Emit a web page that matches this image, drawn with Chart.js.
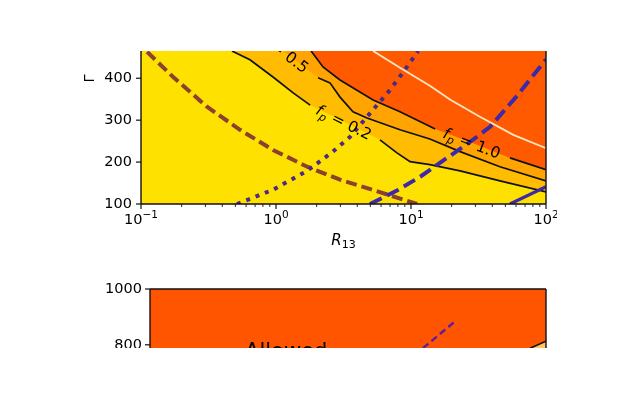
<!DOCTYPE html>
<html>
<head>
<meta charset="utf-8">
<script src="https://cdn.jsdelivr.net/npm/chart.js@4.4.1/dist/chart.umd.min.js"></script>
<style>
  html, body { margin: 0; padding: 0; background: #fff; }
  #page { position: relative; width: 557px; height: 400px; overflow: hidden; }
  #topWrap { position: absolute; left: 0; top: 0; }
  #bottomWrap { position: absolute; left: 0; top: 270px; width: 640px; height: 78px; overflow: hidden; }
</style>
</head>
<body>
<div id="page">
  <div id="topWrap"><canvas id="top" width="640" height="270"></canvas></div>
  <div id="bottomWrap"><canvas id="bottom" width="640" height="318"></canvas></div>
</div>
<script>
// values, points are [R13, Gamma]
const xDecades = [0.1, 1, 10, 100];
const xTickExponents = ['−1', '0', '1', '2']; // labels are 10^exp
const yTicksTop = [100, 200, 300, 400];
const yTicksBottom = [0, 200, 400, 600, 800, 1000];

// contour boundaries f_p = 0.2 / 0.5 / 1.0
const fp02 = [[0.472, 465], [0.641, 444], [0.95, 403], [1.34, 365], [1.79, 336], [3.19, 296],
  [5.89, 253], [7.87, 222], [9.84, 201], [13.8, 194], [23.1, 179], [45.6, 155], [100, 129]];
const fp05 = [[1.13, 465], [2.05, 401], [2.51, 389], [2.98, 355], [3.72, 320], [4.72, 305],
  [8.29, 277], [13.8, 255], [23.1, 225], [45.6, 189], [100, 155]];
const fp10 = [[1.82, 465], [2.23, 427], [2.98, 396], [5.24, 348], [8.29, 320], [15.1, 279],
  [28.3, 246], [54.1, 210], [100, 182]];
const contourLabels = ['0.2', '0.5', '1.0'];
const labelIndex = [5, 0, 6]; // point of each contour where its label sits

const whiteCurve = [[5.24, 465], [8.29, 425], [13.8, 382], [19.7, 348], [32.4, 308], [57.3, 265], [100, 233]];
const brownDashed = [[0.111, 463], [0.173, 403], [0.308, 332], [0.541, 277], [0.95, 229],
  [1.7, 189], [2.98, 158], [5.41, 132], [11.1, 100]];
const dottedCurve = [[0.514, 100], [0.95, 134], [1.7, 179], [2.64, 225], [3.53, 260],
  [5.24, 325], [6.99, 372], [9.33, 427], [11.3, 465]];
const blueDashed = [[4.97, 100], [7.87, 132], [11.7, 165], [18.5, 210], [27.4, 248],
  [38.5, 284], [61.0, 358], [100, 445]];
const blueSolid = [[54.1, 100], [100, 141]];

// lower panel
const lowerDashed = [[11.7, 788], [20.1, 881]];
const lowerEdge = [[75.7, 788], [100, 813]];
const allowedAt = [0.525, 752];

const xTickValues = [];
xDecades.forEach((d, i) => {
  xTickValues.push(d);
  if (i < xDecades.length - 1) for (let m = 2; m <= 9; m++) xTickValues.push(d * m);
});

const FONT = '"DejaVu Sans", sans-serif';
Chart.defaults.font.family = FONT;
Chart.defaults.font.size = 14.5;
Chart.defaults.color = '#000';

const pts = arr => arr.map(([x, y]) => ({ x, y }));
const gapped = (arr, gap) => arr.map(([x, y], k) => ({ x, y: k === gap ? null : y }));

function fillSet(arr, color, order) {
  return { data: pts(arr), borderWidth: 0, borderColor: 'transparent', backgroundColor: color, fill: 'end', order };
}
function lineSet(data, color, width, dash, order) {
  return { data, borderColor: color, borderWidth: width, borderDash: dash || [], fill: false, order, spanGaps: false };
}

function drawFpLabel(ctx, x, y, angle, value, size) {
  ctx.save();
  ctx.translate(x, y);
  ctx.rotate(angle);
  ctx.fillStyle = '#000';
  ctx.textBaseline = 'alphabetic';
  ctx.textAlign = 'left';
  const big = 'italic ' + size + 'px ' + FONT;
  const small = 'italic ' + (size * 0.7) + 'px ' + FONT;
  const reg = size + 'px ' + FONT;
  const rest = ' = ' + value;
  ctx.font = big; const wf = ctx.measureText('f').width;
  ctx.font = small; const wp = ctx.measureText('p').width;
  ctx.font = reg; const wr = ctx.measureText(rest).width;
  let cx = -(wf + wp + wr) / 2;
  const base = size * 0.36;
  ctx.font = big; ctx.fillText('f', cx, base); cx += wf;
  ctx.font = small; ctx.fillText('p', cx, base + size * 0.22); cx += wp;
  ctx.font = reg; ctx.fillText(rest, cx, base);
  ctx.restore();
}

function frame(ctx, area, sides) {
  ctx.save();
  ctx.strokeStyle = '#111';
  ctx.lineWidth = 1.4;
  ctx.beginPath();
  if (sides.includes('l')) { ctx.moveTo(area.left, area.top); ctx.lineTo(area.left, area.bottom); }
  if (sides.includes('r')) { ctx.moveTo(area.right, area.top); ctx.lineTo(area.right, area.bottom); }
  if (sides.includes('b')) { ctx.moveTo(area.left, area.bottom); ctx.lineTo(area.right, area.bottom); }
  if (sides.includes('t')) { ctx.moveTo(area.left, area.top); ctx.lineTo(area.right, area.top); }
  ctx.stroke();
  ctx.restore();
}

function yTickMarks(ctx, chart, values) {
  const a = chart.chartArea, ys = chart.scales.y;
  ctx.save();
  ctx.strokeStyle = '#111'; ctx.lineWidth = 1.2;
  values.forEach(v => {
    const py = ys.getPixelForValue(v);
    if (py < a.top - 0.5 || py > a.bottom + 0.5) return;
    ctx.beginPath(); ctx.moveTo(a.left, py); ctx.lineTo(a.left - 5, py); ctx.stroke();
  });
  ctx.restore();
}

const topPlugin = {
  id: 'topPanel',
  beforeDatasetsDraw(chart) {
    const { ctx, chartArea: a } = chart;
    ctx.save();
    ctx.fillStyle = '#FFE100';
    ctx.fillRect(a.left, a.top, a.right - a.left, a.bottom - a.top);
    ctx.restore();
  },
  afterDatasetsDraw(chart) {
    const { ctx, chartArea: a, scales: { x, y } } = chart;
    ctx.save();
    ctx.beginPath(); ctx.rect(a.left, a.top, a.right - a.left, a.bottom - a.top); ctx.clip();
    [fp02, fp05, fp10].forEach((c, i) => {
      const k = labelIndex[i];
      const p1 = c[Math.max(k - 1, 0)], p2 = c[k + 1];
      const ang = Math.atan2(y.getPixelForValue(p2[1]) - y.getPixelForValue(p1[1]),
        x.getPixelForValue(p2[0]) - x.getPixelForValue(p1[0]));
      drawFpLabel(ctx, x.getPixelForValue(c[k][0]), y.getPixelForValue(c[k][1]), ang, contourLabels[i], 15.5);
    });
    ctx.restore();
  },
  afterDraw(chart) {
    const { ctx, chartArea: a, scales: { x } } = chart;
    frame(ctx, a, 'lrb');
    yTickMarks(ctx, chart, yTicksTop);
    ctx.save();
    ctx.strokeStyle = '#111';
    xTickValues.forEach(v => {
      const major = xDecades.includes(v);
      const px = x.getPixelForValue(v);
      ctx.lineWidth = major ? 1.2 : 0.9;
      ctx.beginPath(); ctx.moveTo(px, a.bottom); ctx.lineTo(px, a.bottom + (major ? 5 : 3)); ctx.stroke();
    });
    // x tick labels 10^n
    ctx.fillStyle = '#000';
    ctx.textBaseline = 'alphabetic';
    ctx.textAlign = 'left';
    xDecades.forEach((d, i) => {
      const px = x.getPixelForValue(d);
      ctx.font = '14.5px ' + FONT;
      const wb = ctx.measureText('10').width;
      ctx.font = '10.5px ' + FONT;
      const we = ctx.measureText(xTickExponents[i]).width;
      const sx = px - (wb + we) / 2;
      ctx.font = '14.5px ' + FONT;
      ctx.fillText('10', sx, a.bottom + 20);
      ctx.font = '10.5px ' + FONT;
      ctx.fillText(xTickExponents[i], sx + wb, a.bottom + 14);
    });
    // axis titles
    ctx.font = 'italic 15px ' + FONT;
    const wR = ctx.measureText('R').width;
    ctx.font = '11px ' + FONT;
    const wS = ctx.measureText('13').width;
    const sx = (a.left + a.right) / 2 - (wR + wS) / 2;
    ctx.font = 'italic 15px ' + FONT;
    ctx.fillText('R', sx, a.bottom + 41);
    ctx.font = '11px ' + FONT;
    ctx.fillText('13', sx + wR, a.bottom + 44);
    ctx.translate(a.left - 47.5, a.top + 27.5);
    ctx.rotate(-Math.PI / 2);
    ctx.textAlign = 'center';
    ctx.font = '14.5px ' + FONT;
    ctx.fillText('Γ', 0, 0);
    ctx.restore();
  }
};

new Chart(document.getElementById('top'), {
  type: 'line',
  data: {
    datasets: [
      fillSet(fp02, '#FFBC00', 10),
      fillSet(fp05, '#FFA400', 9),
      fillSet(fp10, '#FF5A00', 8),
      lineSet(gapped(fp02, labelIndex[0]), '#111', 1.7, null, 5),
      lineSet(pts(fp05.slice(1)), '#111', 1.7, null, 5),
      lineSet(gapped(fp10, labelIndex[2]), '#111', 1.7, null, 5),
      lineSet(pts(whiteCurve), '#FCE6C4', 1.8, null, 4),
      lineSet(pts(brownDashed), '#8B4030', 4, [11, 5], 3),
      lineSet(pts(dottedCurve), '#4A2A86', 4, [4, 6], 2),
      lineSet(pts(blueDashed), '#3D2AA8', 4, [13, 6], 1),
      lineSet(pts(blueSolid), '#3D2AA8', 3.2, null, 1)
    ]
  },
  options: {
    responsive: false,
    animation: false,
    devicePixelRatio: 1,
    layout: { padding: { left: 0, top: 51, right: 94, bottom: 0 } },
    plugins: { legend: { display: false }, tooltip: { enabled: false } },
    elements: { point: { radius: 0 }, line: { tension: 0 } },
    scales: {
      x: {
        type: 'logarithmic', min: 0.1, max: 100,
        grid: { display: false, drawTicks: false }, border: { display: false },
        afterBuildTicks: s => { s.ticks = xTickValues.map(v => ({ value: v })); },
        afterFit: s => { s.height = 66; },
        ticks: { display: false }
      },
      y: {
        type: 'linear', min: 100, max: 465,
        grid: { display: false, drawTicks: false }, border: { display: false },
        afterBuildTicks: s => { s.ticks = yTicksTop.map(v => ({ value: v })); },
        afterFit: s => { s.width = 141; },
        ticks: { padding: 9, callback: v => String(v) }
      }
    }
  },
  plugins: [topPlugin]
});

const bottomPlugin = {
  id: 'bottomPanel',
  beforeDatasetsDraw(chart) {
    const { ctx, chartArea: a } = chart;
    ctx.save();
    ctx.fillStyle = '#FF5500';
    ctx.fillRect(a.left, a.top, a.right - a.left, a.bottom - a.top);
    ctx.restore();
  },
  afterDatasetsDraw(chart) {
    const { ctx, scales: { x, y } } = chart;
    ctx.save();
    ctx.fillStyle = '#000';
    ctx.font = '21px ' + FONT;
    ctx.textAlign = 'left';
    ctx.textBaseline = 'alphabetic';
    ctx.fillText('Allowed', x.getPixelForValue(allowedAt[0]), y.getPixelForValue(allowedAt[1]));
    ctx.restore();
  },
  afterDraw(chart) {
    frame(chart.ctx, chart.chartArea, 'lrtb');
    yTickMarks(chart.ctx, chart, yTicksBottom);
  }
};

new Chart(document.getElementById('bottom'), {
  type: 'line',
  data: {
    datasets: [
      { data: pts(lowerEdge), borderColor: '#111', borderWidth: 1.6, backgroundColor: '#FFC45E', fill: 'start', order: 5 },
      lineSet(pts(lowerDashed), '#5B1F9E', 2.4, [7, 4], 1)
    ]
  },
  options: {
    responsive: false,
    animation: false,
    devicePixelRatio: 1,
    layout: { padding: { left: 0, top: 19, right: 94, bottom: 20 } },
    plugins: { legend: { display: false }, tooltip: { enabled: false } },
    elements: { point: { radius: 0 }, line: { tension: 0 } },
    scales: {
      x: { type: 'logarithmic', min: 0.1, max: 100, display: false },
      y: {
        type: 'linear', min: 0, max: 1000,
        grid: { display: false, drawTicks: false }, border: { display: false },
        afterBuildTicks: s => { s.ticks = yTicksBottom.map(v => ({ value: v })); },
        afterFit: s => { s.width = 150; },
        ticks: { padding: 8, callback: v => String(v) }
      }
    }
  },
  plugins: [bottomPlugin]
});
</script>
</body>
</html>
